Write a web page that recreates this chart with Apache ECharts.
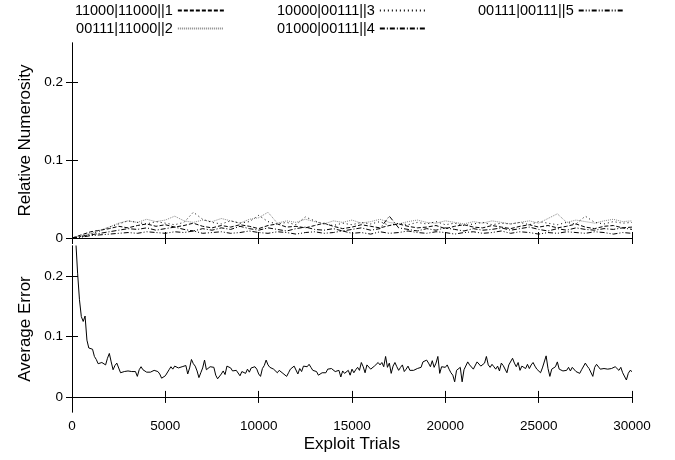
<!DOCTYPE html>
<html><head><meta charset="utf-8">
<script src="https://cdn.jsdelivr.net/npm/echarts@6/dist/echarts.min.js"></script>
<style>html,body{margin:0;padding:0;background:#fff}#c{width:675px;height:460px}</style>
</head><body><div id="c"></div>
<script>
// ---- data ----
const seriesNames = ["11000|11000||1", "00111|11000||2", "10000|00111||3", "01000|00111||4", "00111|00111||5"];
const numerosityStep = 500;   // trials between samples (top panel)
const errorStep = 100;        // trials between samples (bottom panel)
const xTicks = [0, 5000, 10000, 15000, 20000, 25000, 30000];
const numerosityTicks = [0, 0.1, 0.2];
const errorTicks = [0, 0.1, 0.2];

const num1 = [0,0.004,0.008,0.010,0.012,0.015,0.013,0.016,0.018,0.015,
0.017,0.014,0.016,0.019,0.015,0.013,0.016,0.014,0.017,0.015,
0.012,0.016,0.018,0.014,0.015,0.013,0.016,0.019,0.015,0.012,
0.014,0.017,0.015,0.013,0.016,0.018,0.015,0.013,0.014,0.016,
0.012,0.015,0.017,0.014,0.013,0.016,0.014,0.012,0.015,0.017,
0.014,0.016,0.013,0.015,0.018,0.014,0.012,0.015,0.016,0.013,0.014];
const num2 = [0,0.003,0.006,0.010,0.014,0.019,0.022,0.020,0.024,0.021,
0.023,0.028,0.022,0.020,0.023,0.021,0.025,0.022,0.019,0.024,
0.026,0.033,0.019,0.022,0.020,0.024,0.021,0.018,0.022,0.020,
0.023,0.019,0.021,0.024,0.020,0.018,0.021,0.023,0.020,0.019,
0.022,0.020,0.018,0.021,0.019,0.022,0.020,0.018,0.020,0.022,
0.019,0.025,0.031,0.020,0.023,0.021,0.019,0.022,0.024,0.021,0.022];
const num3 = [0,0.002,0.005,0.009,0.014,0.018,0.022,0.020,0.018,0.021,
0.019,0.017,0.020,0.033,0.024,0.020,0.018,0.022,0.019,0.021,
0.029,0.021,0.018,0.020,0.017,0.027,0.022,0.018,0.016,0.019,
0.017,0.020,0.018,0.021,0.016,0.019,0.017,0.020,0.018,0.021,
0.017,0.019,0.016,0.018,0.020,0.017,0.019,0.018,0.020,0.017,
0.021,0.019,0.017,0.020,0.018,0.028,0.020,0.018,0.021,0.019,0.020];
const num4 = [0,0.002,0.004,0.006,0.008,0.010,0.012,0.011,0.013,0.010,
0.012,0.014,0.011,0.009,0.012,0.010,0.013,0.011,0.015,0.012,
0.010,0.013,0.011,0.009,0.012,0.014,0.011,0.010,0.012,0.009,
0.011,0.013,0.010,0.012,0.028,0.013,0.011,0.009,0.012,0.010,
0.013,0.011,0.009,0.012,0.010,0.011,0.013,0.010,0.012,0.014,
0.011,0.009,0.012,0.010,0.013,0.011,0.010,0.012,0.011,0.013,0.011];
const num5 = [0,0.001,0.003,0.004,0.005,0.006,0.007,0.006,0.008,0.007,
0.006,0.008,0.007,0.009,0.006,0.007,0.008,0.006,0.007,0.009,
0.007,0.006,0.008,0.007,0.005,0.007,0.008,0.006,0.007,0.009,
0.006,0.007,0.005,0.008,0.006,0.007,0.009,0.007,0.006,0.008,
0.007,0.005,0.007,0.008,0.006,0.007,0.009,0.006,0.008,0.007,
0.005,0.007,0.006,0.008,0.007,0.006,0.008,0.007,0.005,0.007,0.006];

const avgError = [
0.45,0.32,0.26,0.205,0.161,0.133,0.125,0.134,0.094,0.081,
0.080,0.079,0.067,0.062,0.055,0.058,0.057,0.056,0.053,0.064,
0.072,0.058,0.045,0.052,0.056,0.054,0.040,0.038,0.042,0.044,
0.043,0.044,0.042,0.043,0.042,0.034,0.045,0.050,0.045,0.042,
0.041,0.041,0.041,0.042,0.044,0.047,0.042,0.038,0.031,0.034,
0.035,0.036,0.045,0.050,0.046,0.051,0.054,0.048,0.050,0.050,
0.050,0.052,0.038,0.048,0.062,0.055,0.051,0.043,0.032,0.040,
0.048,0.061,0.045,0.048,0.050,0.052,0.049,0.036,0.030,0.027,
0.038,0.043,0.037,0.051,0.049,0.048,0.043,0.044,0.044,0.045,
0.035,0.042,0.044,0.039,0.046,0.041,0.048,0.045,0.050,0.046,
0.038,
0.034,0.047,0.052,0.061,0.053,0.049,0.051,0.046,0.049,0.040,
0.044,0.041,0.039,0.042,0.034,0.040,0.046,0.049,0.051,0.053,
0.038,0.047,0.042,0.051,0.054,0.050,0.054,0.049,0.044,0.045,
0.042,0.036,0.033,0.040,0.042,0.040,0.046,0.043,0.047,0.044,
0.042,0.040,0.044,0.033,0.043,0.039,0.041,0.044,0.036,0.046,
0.040,0.045,0.049,0.044,0.057,0.050,0.040,0.053,0.056,0.046,
0.049,0.051,0.049,0.057,0.053,0.057,0.050,0.067,0.049,0.056,
0.039,0.051,0.057,0.050,0.044,0.049,0.053,0.042,0.046,0.051,
0.044,0.042,0.044,0.046,0.047,0.049,0.049,0.058,0.056,0.061,
0.056,0.050,0.060,0.049,0.056,0.067,0.039,0.050,0.047,
0.049,0.053,0.046,0.040,0.036,0.025,0.044,0.042,0.049,0.025,
0.045,0.046,0.058,0.053,0.056,0.046,0.049,0.058,0.056,0.051,
0.049,0.056,0.067,0.053,0.049,0.054,0.050,0.046,0.051,0.043,
0.056,0.052,0.049,0.040,0.053,0.051,0.064,0.056,0.050,0.057,
0.044,0.051,0.050,0.047,0.054,0.047,0.053,0.057,0.051,0.046,
0.049,0.040,0.048,0.047,0.068,0.047,0.034,0.046,0.043,0.050,
0.058,0.046,0.049,0.043,0.046,0.044,0.049,0.043,0.049,0.046,
0.042,0.040,0.039,0.045,0.046,0.056,0.051,0.047,0.044,0.034,
0.049,0.054,0.051,0.046,0.043,0.047,0.046,0.046,0.049,0.047,
0.044,0.050,0.047,0.044,0.049,0.040,0.039,0.028,0.039,0.044,
0.042];

// ---- chart ----
const FONT = 'Liberation Sans, Arial, Helvetica, sans-serif';
const chart = echarts.init(document.getElementById('c'), null, {renderer: 'canvas'});
const numSeries = [num1, num2, num3, num4, num5];
const dashes = [[4,2], [1,1], [1,3], [5,2,1,2], [5,2,1,2,1,2]];
const colors = ['#000', '#888', '#000', '#000', '#000'];

const axisLine = {show: true, lineStyle: {color: '#000', width: 1}};
function xAx(grid, pos, labels, extra) {
  return Object.assign({
    type: 'value', gridIndex: grid, position: pos, min: xTicks[0], max: xTicks[xTicks.length - 1], interval: xTicks[1] - xTicks[0],
    axisLine: axisLine, splitLine: {show: false},
    axisTick: {show: true, inside: true, length: 6, lineStyle: {color: '#000'}},
    axisLabel: {show: labels, color: '#000', fontFamily: FONT, fontSize: 13.5, margin: 7,
      formatter: v => String(v)}
  }, extra || {});
}
function yAx(grid, pos, min, max, ticks, labels, extra) {
  return Object.assign({
    type: 'value', gridIndex: grid, position: pos, min: min, max: max,
    axisLine: axisLine, splitLine: {show: false},
    axisTick: {show: true, inside: true, length: 6, lineStyle: {color: '#000'}, customValues: ticks},
    axisLabel: {show: labels, color: '#000', fontFamily: FONT, fontSize: 13.5, margin: 9, customValues: ticks}
  }, extra || {});
}
const nameStyle = {color: '#000', fontFamily: FONT, fontSize: 17};

const series = numSeries.map((arr, k) => ({
  name: seriesNames[k], type: 'line', xAxisIndex: 0, yAxisIndex: 0,
  data: arr.map((v, i) => [i * numerosityStep, v]),
  symbol: 'none', showSymbol: false, animation: false,
  lineStyle: {color: colors[k], width: 1, type: dashes[k]},
  itemStyle: {color: colors[k]}
}));
series.push({
  name: 'Average Error', type: 'line', xAxisIndex: 2, yAxisIndex: 2,
  data: avgError.map((v, i) => [i * errorStep, v]),
  symbol: 'none', showSymbol: false, animation: false, clip: true,
  lineStyle: {color: '#000', width: 1},
  markLine: {silent: true, symbol: 'none', animation: false, label: {show: false},
    lineStyle: {color: '#000', width: 1, type: 'solid'}, data: [{yAxis: 0}]}
});

function legend(left, names) {
  return {
    left: left, top: 3, orient: 'vertical', align: 'right', padding: 0,
    itemWidth: 46, itemHeight: 14, itemGap: 3, selectedMode: false,
    data: names,
    itemStyle: {opacity: 0, borderWidth: 0},
    textStyle: {color: '#000', fontFamily: FONT, fontSize: 14.5}
  };
}

chart.setOption({
  animation: false,
  backgroundColor: '#fff',
  textStyle: {fontFamily: FONT},
  legend: [
    legend(75, [seriesNames[0], seriesNames[1]]),
    legend(277, [seriesNames[2], seriesNames[3]]),
    legend(478, [seriesNames[4]])
  ],
  grid: [
    {left: 72, right: 43, top: 43, height: 195},
    {left: 72, right: 43, top: 246, height: 166}
  ],
  xAxis: [
    xAx(0, 'bottom', false),
    xAx(0, 'top', false),
    xAx(1, 'bottom', true, {name: 'Exploit Trials', nameLocation: 'middle', nameGap: 24, nameTextStyle: nameStyle}),
    xAx(1, 'top', false)
  ],
  yAxis: [
    yAx(0, 'left', 0, 0.25, numerosityTicks, true, {name: 'Relative Numerosity', nameLocation: 'middle', nameGap: 28, nameTextStyle: nameStyle}),
    yAx(0, 'right', 0, 0.25, numerosityTicks, false),
    yAx(1, 'left', -0.025, 0.25, errorTicks, true, {name: 'Average Error', nameLocation: 'middle', nameGap: 28, nameTextStyle: nameStyle}),
    yAx(1, 'right', -0.025, 0.25, errorTicks, false)
  ],
  series: series
});
</script></body></html>
